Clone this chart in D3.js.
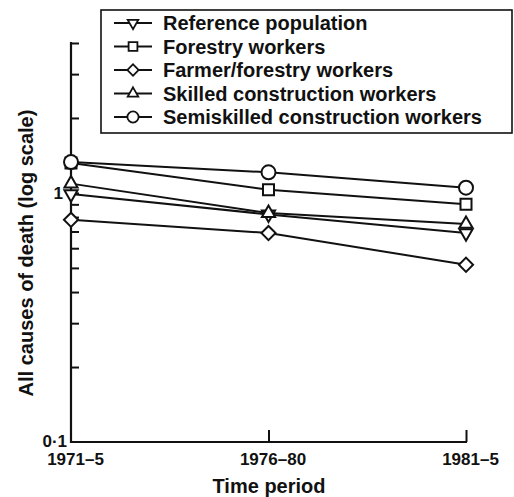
<!DOCTYPE html>
<html>
<head>
<meta charset="utf-8">
<script src="https://cdn.jsdelivr.net/npm/d3@7"></script>
<style>
  body { margin: 0; background: #fff; }
  svg { display: block; }
  text { font-family: "Liberation Sans", Arial, Helvetica, sans-serif; font-weight: bold; fill: #111; }
</style>
</head>
<body>
<svg width="514" height="497"></svg>
<script>
// data
var periods = ["1971\u20135", "1976\u201380", "1981\u20135"];
var seriesNames = ["Reference population", "Forestry workers", "Farmer/forestry workers",
    "Skilled construction workers", "Semiskilled construction workers"];
var referencePop = [0.99, 0.82, 0.69];
var forestry = [1.32, 1.03, 0.90];
var farmerForestry = [0.78, 0.69, 0.515];
var skilledConstr = [1.09, 0.83, 0.75];
var semiskilledConstr = [1.33, 1.21, 1.05];
var yTicks = [0.2, 0.3, 0.4, 0.5, 0.6, 0.7, 0.8, 0.9, 1, 2, 3, 4];
var yLabels = [{v: 1, t: "1"}, {v: 0.1, t: "0\u00b71"}];

var allSeries = [referencePop, forestry, farmerForestry, skilledConstr, semiskilledConstr];
var shapes = ["invtri", "square", "diamond", "tri", "circle"];

var svg = d3.select("svg");
var plotLeft = 71, plotRight = 466, plotTop = 43, plotBottom = 442;

var x = d3.scalePoint().domain(periods).range([plotLeft, plotRight]);
var y = d3.scaleLog().domain([0.1, 4]).range([plotBottom, plotTop]);

// marker paths, big for plot, small for legend
function markerPath(shape, big) {
    var k = big ? 1 : 0.8;
    if (shape === "circle") return d3.symbol(d3.symbolCircle, Math.PI * 49 * k * k)();
    if (shape === "square") return d3.symbol(d3.symbolSquare, 121 * k * k)();
    if (shape === "diamond") return d3.symbol(d3.symbolSquare, 100 * k * k)();
    return d3.symbol(d3.symbolTriangle, 75 * k * k)();
}
function markerRotate(shape) {
    if (shape === "diamond") return 45;
    if (shape === "invtri") return 180;
    return 0;
}

// y axis, ticks pointing inwards
var yAxis = d3.axisRight(y).tickValues(yTicks).tickSize(8).tickSizeOuter(0).tickFormat("");
var gy = svg.append("g").attr("transform", "translate(" + plotLeft + ",0)").call(yAxis);
gy.select(".domain").remove();
gy.selectAll("line").attr("stroke", "#111").attr("stroke-width", 2);
svg.append("line")
    .attr("x1", plotLeft).attr("x2", plotLeft).attr("y1", y(4) - 1).attr("y2", plotBottom + 1)
    .attr("stroke", "#111").attr("stroke-width", 2.2);

svg.selectAll(".ylab").data(yLabels).enter().append("text")
    .attr("class", "ylab")
    .attr("x", function(d) { return d.v === 1 ? 63 : 67; })
    .attr("y", function(d) { return y(d.v) + (d.v === 1 ? 0 : -1); })
    .attr("dy", "0.35em")
    .attr("text-anchor", "end")
    .style("font-size", "17px")
    .text(function(d) { return d.t; });

// x axis, ticks pointing up
var xAxis = d3.axisBottom(x).tickSize(-12).tickSizeOuter(0).tickPadding(11);
var gx = svg.append("g").attr("transform", "translate(0," + plotBottom + ")").call(xAxis);
gx.select(".domain").remove();
gx.selectAll("line").attr("stroke", "#111").attr("stroke-width", 2);
gx.selectAll(".tick").filter(function(d, i) { return i === 0; }).select("line").remove();
gx.selectAll("text")
    .attr("dx", 4)
    .style("font-size", "17px")
    .style("font-family", "'Liberation Sans', Arial, sans-serif")
    .style("font-weight", "bold")
    .attr("fill", "#111");
svg.append("line")
    .attr("x1", plotLeft - 1).attr("x2", plotRight + 1).attr("y1", plotBottom).attr("y2", plotBottom)
    .attr("stroke", "#111").attr("stroke-width", 2.2);

// axis titles
svg.append("text")
    .attr("x", 269).attr("y", 493)
    .attr("text-anchor", "middle")
    .style("font-size", "20px")
    .text("Time period");

svg.append("text")
    .attr("transform", "translate(33,253) rotate(-90)")
    .attr("text-anchor", "middle")
    .style("font-size", "20px")
    .text("All causes of death (log scale)");

// series lines and markers
var line = d3.line()
    .x(function(d, i) { return x(periods[i]); })
    .y(function(d) { return y(d); });

var sg = svg.selectAll(".series").data(allSeries).enter().append("g").attr("class", "series");

sg.append("path")
    .attr("d", line)
    .attr("fill", "none")
    .attr("stroke", "#111")
    .attr("stroke-width", 2);

sg.each(function(vals, si) {
    d3.select(this).selectAll("path.mk").data(vals).enter().append("path")
        .attr("class", "mk")
        .attr("d", markerPath(shapes[si], true))
        .attr("transform", function(d, i) {
            return "translate(" + x(periods[i]) + "," + y(d) + ") rotate(" + markerRotate(shapes[si]) + ")";
        })
        .attr("fill", "#fff")
        .attr("stroke", "#111")
        .attr("stroke-width", 2);
});

// legend
var lg = svg.append("g");
lg.append("rect")
    .attr("x", 101).attr("y", 10).attr("width", 411).attr("height", 123)
    .attr("fill", "#fff").attr("stroke", "#111").attr("stroke-width", 1.6);

var row = lg.selectAll(".lrow").data(seriesNames).enter().append("g")
    .attr("class", "lrow")
    .attr("transform", function(d, i) { return "translate(0," + (23 + i * 23.5) + ")"; });

row.append("line")
    .attr("x1", 114).attr("x2", 152)
    .attr("stroke", "#111").attr("stroke-width", 2.2);
row.append("path")
    .attr("d", function(d, i) { return markerPath(shapes[i], false); })
    .attr("transform", function(d, i) { return "translate(133,0) rotate(" + markerRotate(shapes[i]) + ")"; })
    .attr("fill", "#fff").attr("stroke", "#111").attr("stroke-width", 1.8);
row.append("text")
    .attr("x", 163).attr("dy", "0.36em")
    .style("font-size", "20px")
    .text(function(d) { return d; });
</script>
</body>
</html>
